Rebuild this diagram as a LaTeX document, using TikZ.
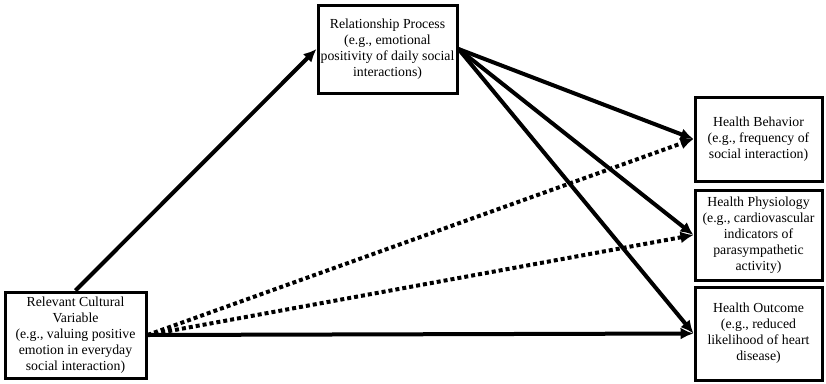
\documentclass[tikz,border=0pt]{standalone}
\usepackage{fontspec}
\setmainfont{Liberation Serif}
\usepackage{tikz}
\usetikzlibrary{arrows.meta, positioning, calc}

\begin{document}
\begin{tikzpicture}[x=1pt, y=-1pt,
  box/.style={draw, line width=3pt, align=center, inner sep=1pt,
    font=\fontsize{13.8}{16}\selectfont},
  path/.style={-{Latex[length=13pt, width=12pt]}, line width=4pt},
  weak/.style={path, dash pattern=on 4pt off 3pt}]
\useasboundingbox (0,0) rectangle (826,383);

% Predictor and mediator
\node[box, minimum width=141pt, minimum height=86pt] (culture) at (75.5,335)
  {Relevant Cultural\\Variable\\(e.g., valuing positive\\emotion in everyday\\social interaction)};
\node[box, minimum width=139pt, minimum height=88pt] (process) at (387.5,49)
  {Relationship Process\\(e.g., emotional\\positivity of daily social\\interactions)};

% Health outcomes
\node[box, minimum width=127pt, minimum height=84pt] (behavior) at (758.5,139)
  {Health Behavior\\(e.g., frequency of\\social interaction)};
\node[box, minimum width=127pt, minimum height=90pt] (physio) at (758.5,235)
  {Health Physiology\\(e.g., cardiovascular\\indicators of\\parasympathetic\\activity)};
\node[box, minimum width=127pt, minimum height=93pt] (outcome) at (758.5,333.5)
  {Health Outcome\\(e.g., reduced\\likelihood of heart\\disease)};

% Paths
\draw[path] (culture.north) -- (process.west);
\draw[path] (process.east) -- (behavior.west);
\draw[path] (process.east) -- (physio.west);
\draw[path] (process.east) -- (outcome.west);
\draw[weak] (culture.east) -- (behavior.west);
\draw[weak] (culture.east) -- (physio.west);
\draw[path] (culture.east) -- (outcome.west);
\end{tikzpicture}
\end{document}
